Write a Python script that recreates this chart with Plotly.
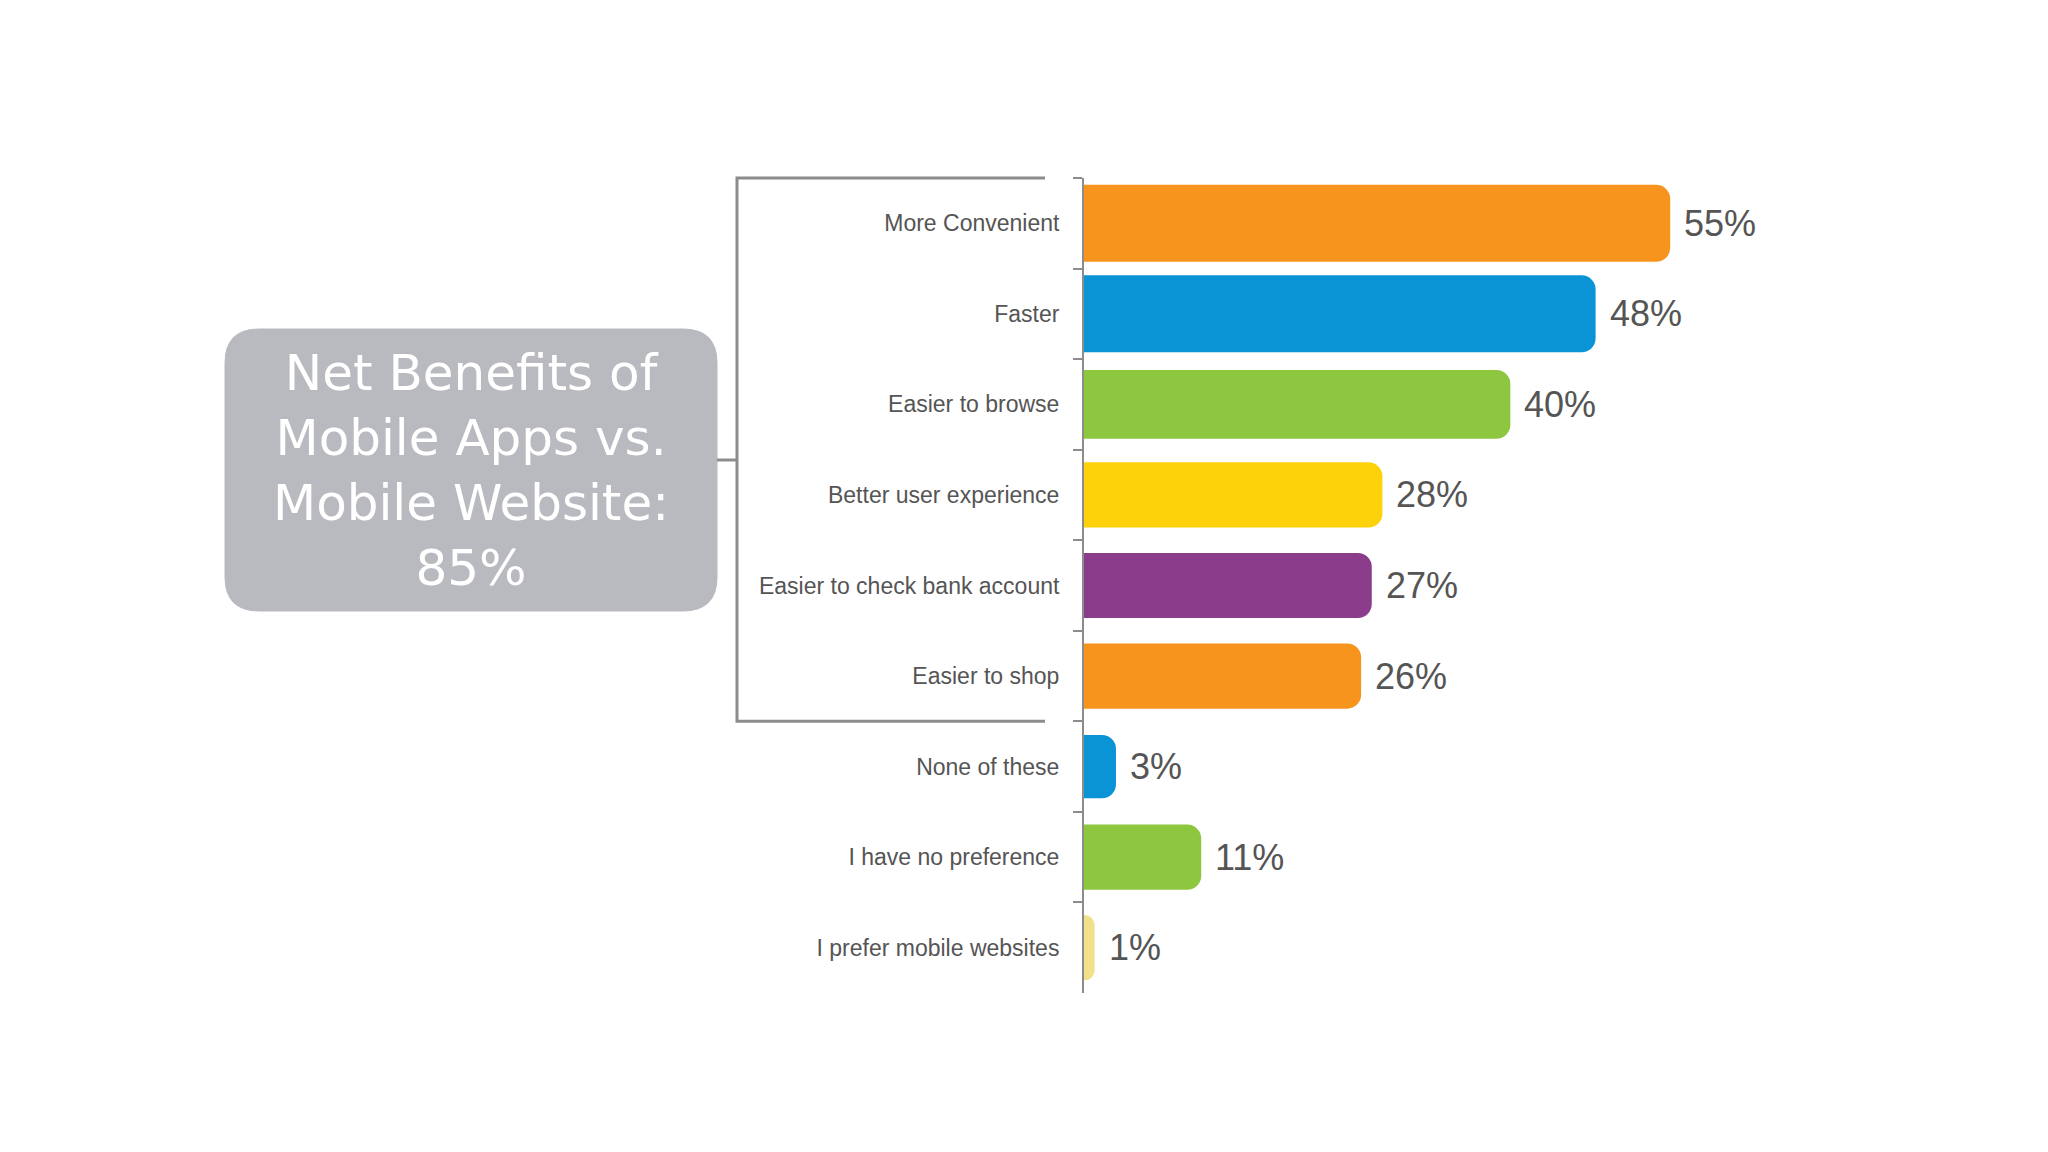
import plotly.graph_objects as go

categories = ["More Convenient", "Faster", "Easier to browse", "Better user experience",
              "Easier to check bank account", "Easier to shop", "None of these",
              "I have no preference", "I prefer mobile websites"]
values = [55, 48, 40, 28, 27, 26, 3, 11, 1]
value_labels = ["55%", "48%", "40%", "28%", "27%", "26%", "3%", "11%", "1%"]
colors = ["#f7941d", "#0a94d6", "#8dc63f", "#fdd20a", "#8b3d8c", "#f7941d",
          "#0a94d6", "#8dc63f", "#f2e08a"]
bar_widths = [0.85, 0.85, 0.76, 0.72, 0.72, 0.72, 0.70, 0.72, 0.72]
box_text = "Net Benefits of<br>Mobile Apps vs.<br>Mobile Website:<br>85%"

W, H = 2048, 1152
ML, MR, MT, MB = 1076, 114, 170, 167
PW = W - ML - MR
PH = H - MT - MB


def px_x(x):
    return (x - ML) / PW


def px_y(y):
    return 1 - (y - MT) / PH


fig = go.Figure()
fig.add_trace(go.Bar(
    x=values, y=categories, orientation="h", width=bar_widths,
    marker=dict(color=colors, line=dict(width=0), cornerradius=14),
    hoverinfo="skip", showlegend=False,
))

for v, c, t in zip(values, categories, value_labels):
    fig.add_annotation(x=v, y=c, text=t, showarrow=False, xanchor="left", yanchor="middle",
                       xshift=12, font=dict(family="Liberation Sans", size=36, color="#555555"))

line_col = "#8c8c8c"
# bracket
xl, xr = px_x(729), px_x(1037)
yt, yb = 1.0, 1 - 6 / 9
ym = px_y(452)
fig.add_shape(type="path", xref="paper", yref="paper",
              path=f"M {xr} {yt} L {xl} {yt} L {xl} {yb} L {xr} {yb}",
              line=dict(color=line_col, width=3))
fig.add_shape(type="line", xref="paper", yref="paper", x0=px_x(709), x1=xl, y0=ym, y1=ym,
              line=dict(color=line_col, width=3))

# rounded gray box
bx0, bx1 = px_x(217), px_x(709)
by0, by1 = px_y(603), px_y(321)
rx, ry = 34 / PW, 34 / PH
path = (f"M {bx0+rx} {by1} L {bx1-rx} {by1} Q {bx1} {by1} {bx1} {by1-ry} "
        f"L {bx1} {by0+ry} Q {bx1} {by0} {bx1-rx} {by0} L {bx0+rx} {by0} "
        f"Q {bx0} {by0} {bx0} {by0+ry} L {bx0} {by1-ry} Q {bx0} {by1} {bx0+rx} {by1} Z")
fig.add_shape(type="path", xref="paper", yref="paper", path=path, layer="below",
              fillcolor="#b9babf", line=dict(color="#b9babf", width=1))
fig.add_annotation(xref="paper", yref="paper", x=(bx0 + bx1) / 2, y=(by0 + by1) / 2,
                   xanchor="center", yanchor="middle",
                   text=box_text, showarrow=False, align="center",
                   font=dict(family="DejaVu Sans", size=50, color="#ffffff"))

fig.update_layout(
    width=W, height=H,
    margin=dict(l=ML, r=MR, t=MT, b=MB),
    paper_bgcolor="#ffffff", plot_bgcolor="rgba(0,0,0,0)",
    bargap=0.2,
    xaxis=dict(range=[0, 80.5], visible=False, fixedrange=True),
    yaxis=dict(autorange="reversed", showline=True, linecolor=line_col, linewidth=2,
               ticks="outside", tickson="boundaries", ticklen=9, tickwidth=2,
               tickcolor=line_col, showgrid=False, zeroline=False,
               ticklabelstandoff=18,
               tickfont=dict(family="Liberation Sans", size=23, color="#555555")),
)

fig.write_html("out.html")
